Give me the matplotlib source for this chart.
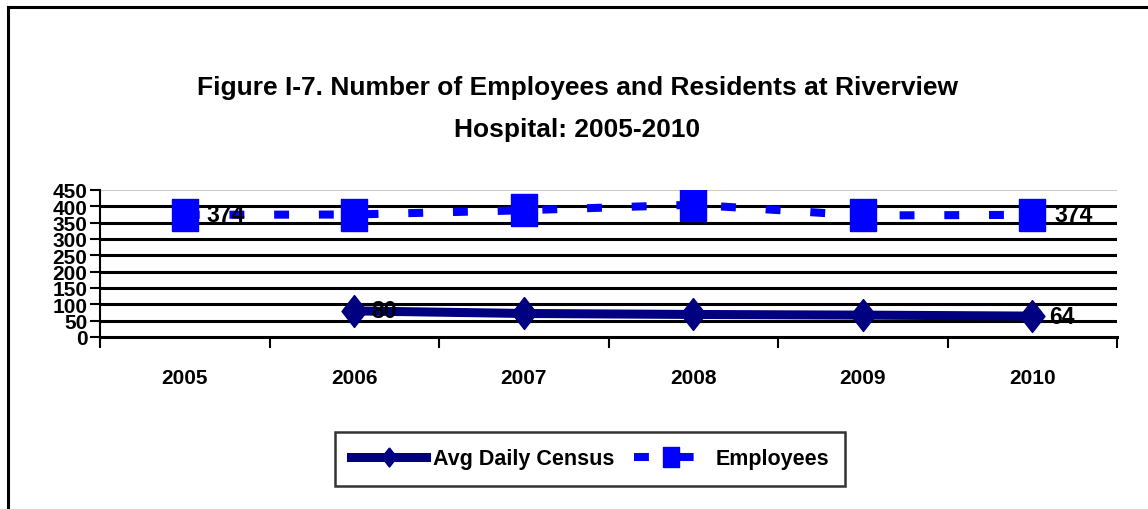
import matplotlib
matplotlib.use("Agg")
import matplotlib.pyplot as plt
from matplotlib.lines import Line2D

years = ["2005", "2006", "2007", "2008", "2009", "2010"]
employees = [374, 375, 388, 405, 372, 374]
census = [None, 80, 72, 69, 67, 64]
yticks = [0, 50, 100, 150, 200, 250, 300, 350, 400, 450]

plt.rcParams['font.family'] = ['Liberation Sans', 'DejaVu Sans']
plt.rcParams['font.weight'] = 'bold'

W, H = 1148, 510
fig = plt.figure(figsize=(W / 100, H / 100), dpi=100)
fig.patch.set_facecolor('white')

# figure border (left and top visible, right/bottom beyond image)
fig.add_artist(Line2D([8 / W, 8 / W], [0, 1 - 8 / H], transform=fig.transFigure, color='black', lw=2.2))
fig.add_artist(Line2D([8 / W, 1.01], [1 - 8 / H, 1 - 8 / H], transform=fig.transFigure, color='black', lw=2.2))

ax = fig.add_axes([100 / W, 1 - 338 / H, (1117 - 100) / W, (338 - 191) / H])
x = list(range(len(years)))

ax.set_xlim(-0.5, len(years) - 0.5)
ax.set_ylim(0, 450)

for v in yticks[1:-1]:
    ax.axhline(v, color='black', lw=2.2, zorder=1)
ax.axhline(450, color='#c0c0c0', lw=1.2, zorder=1)

tall_diamond = [(0, 1), (0.78, 0), (0, -1), (-0.78, 0), (0, 1)]
tall_square = [(-0.84, -1), (0.84, -1), (0.84, 1), (-0.84, 1), (-0.84, -1)]

cx = [i for i, v in zip(x, census) if v is not None]
cv = [v for v in census if v is not None]
ax.plot(cx, cv, color='#000080', lw=6.5, marker=tall_diamond, markersize=23,
        solid_joinstyle='miter', zorder=3, label='Avg Daily Census')
ax.plot(x, employees, color='#0000FF', lw=5.8, linestyle=(0, (1.85, 3.7)),
        dash_capstyle='butt', marker=tall_square, markersize=23, zorder=4, label='Employees')

lab_kw = dict(fontsize=16.5, fontweight='bold', va='center', ha='left', zorder=5)
ax.text(x[0] + 0.13, employees[0], str(employees[0]), **lab_kw)
ax.text(x[-1] + 0.13, employees[-1], str(employees[-1]), **lab_kw)
ax.text(cx[0] + 0.1, cv[0], str(cv[0]), **lab_kw)
ax.text(cx[-1] + 0.1, cv[-1], str(cv[-1]), **lab_kw)

ax.set_yticks(yticks)
ax.set_yticklabels([str(t) for t in yticks], fontsize=15, fontweight='bold')
ax.set_xticks(x)
ax.set_xticklabels(years, fontsize=15, fontweight='bold')
ax.set_xticks([i - 0.5 for i in range(len(years) + 1)], minor=True)
ax.tick_params(axis='x', which='major', length=0, pad=22)
ax.tick_params(axis='x', which='minor', length=8, width=1.5, direction='out')
ax.tick_params(axis='y', length=7, width=1.5, direction='out', pad=2)

for s in ['top', 'right']:
    ax.spines[s].set_visible(False)
ax.spines['left'].set_linewidth(1.5)
ax.spines['bottom'].set_linewidth(2.2)

fig.text(0.503, 1 - 88 / H, "Figure I-7. Number of Employees and Residents at Riverview",
         ha='center', va='center', fontsize=19, fontweight='bold')
fig.text(0.503, 1 - 130 / H, "Hospital: 2005-2010",
         ha='center', va='center', fontsize=19, fontweight='bold')

leg = fig.legend(loc='center', bbox_to_anchor=(590 / W, 1 - 460 / H), ncol=2,
                 fontsize=15.5, frameon=True, fancybox=False, edgecolor='black',
                 handlelength=3.5, handletextpad=0.3, columnspacing=0.9,
                 borderpad=0.75, borderaxespad=0, markerscale=0.6)
leg.get_frame().set_linewidth(1.8)
for t in leg.get_texts():
    t.set_fontweight('bold')

fig.savefig('out.png', dpi=100)
